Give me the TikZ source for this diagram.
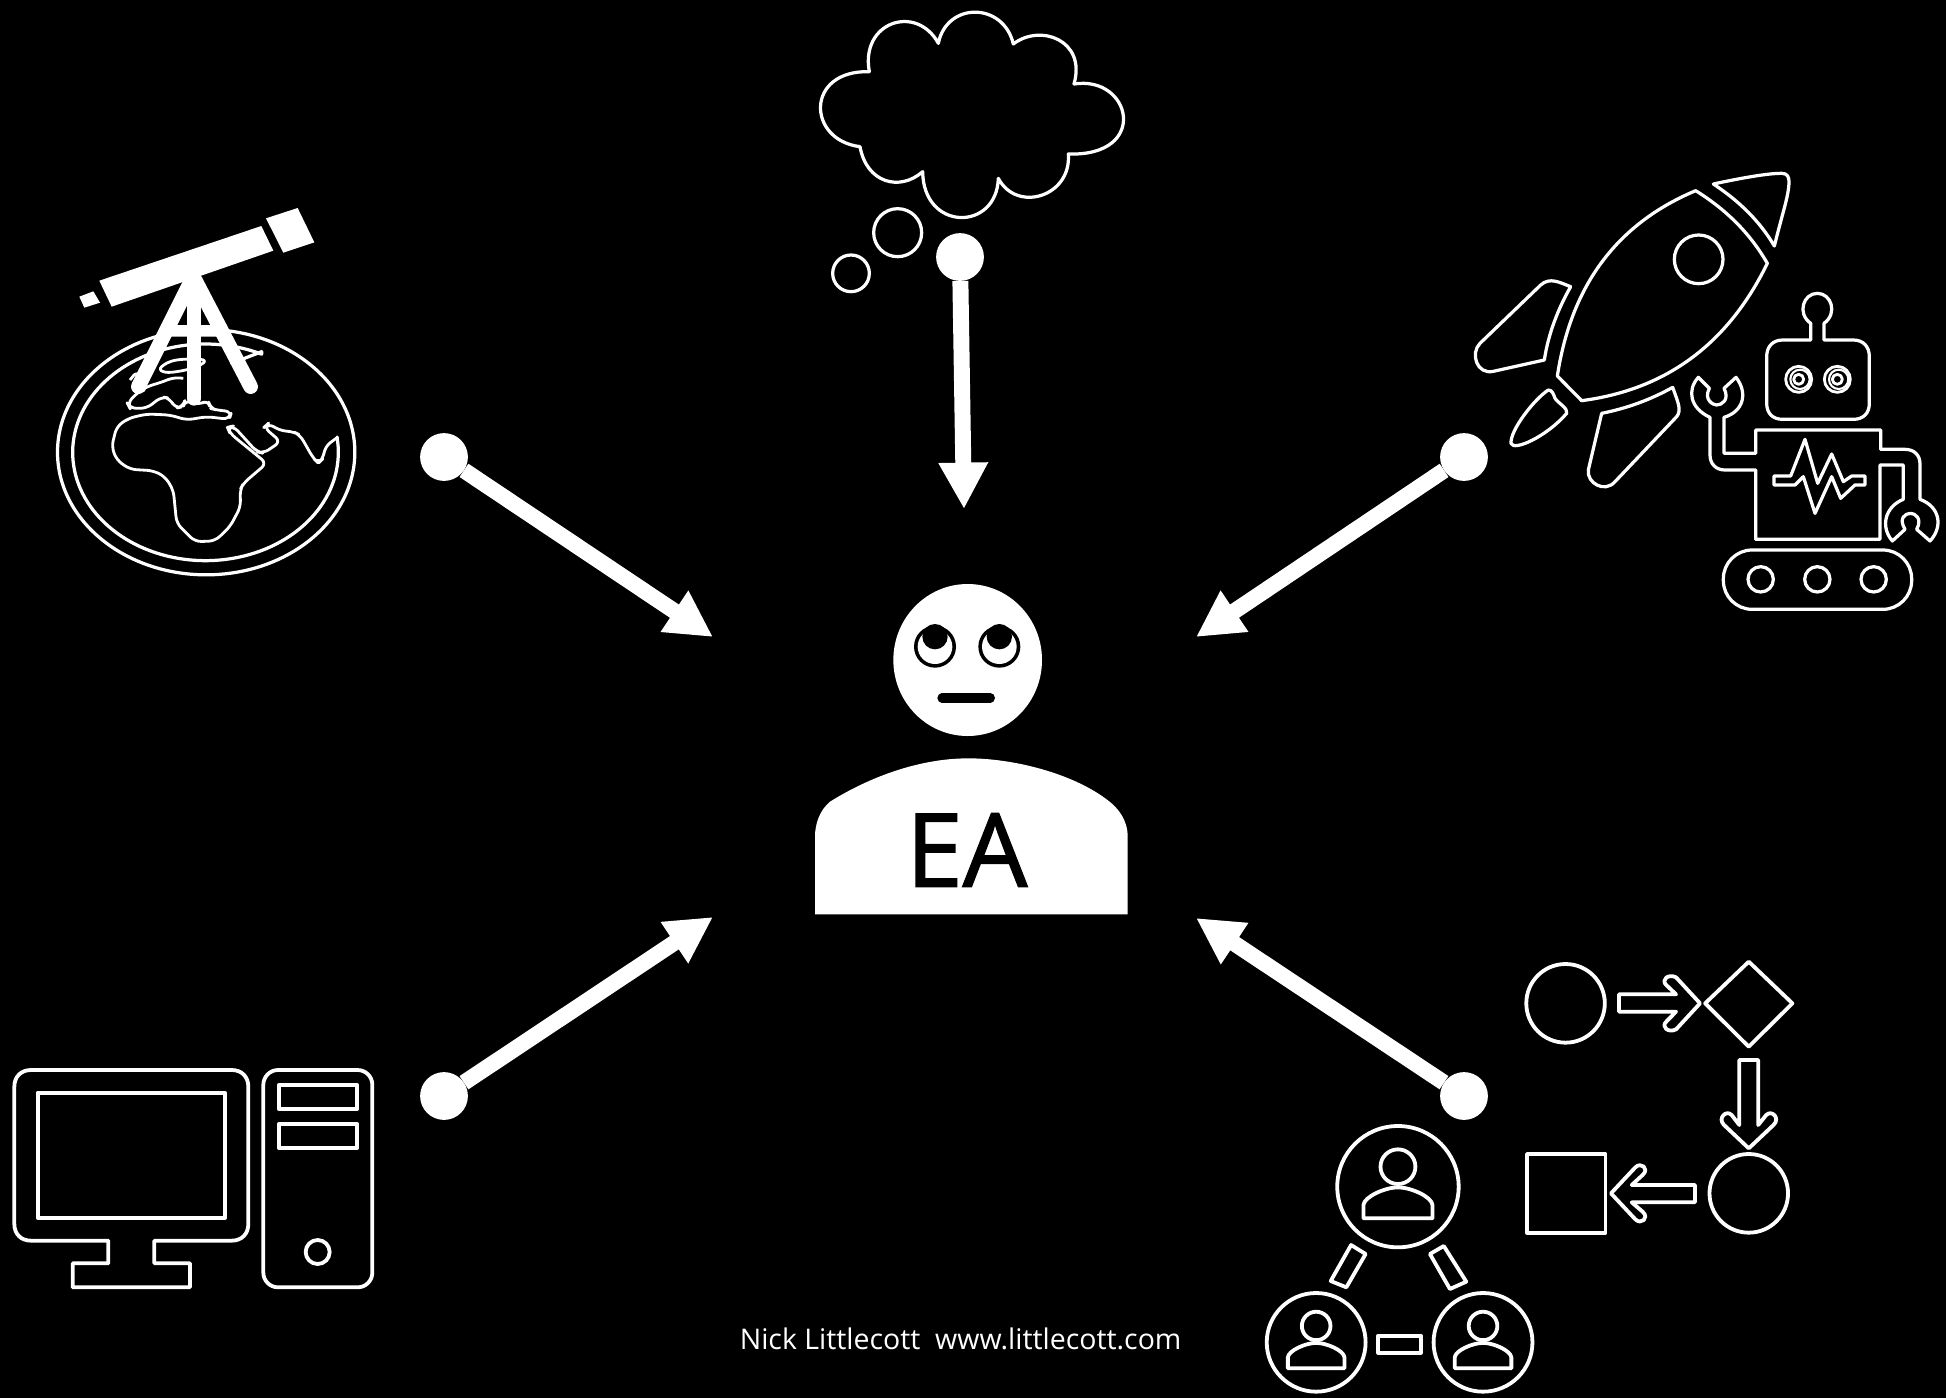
\documentclass[tikz,border=0pt]{standalone}
\usepackage{fontspec}
\setmainfont{Open Sans}
\newfontfamily\eafont[FakeBold=1.5]{Open Sans}
\usetikzlibrary{arrows.meta}
\tikzset{
  ol/.style={draw=white,line width=4.6pt,line join=round},
  thick ol/.style={draw=white,line width=5.4pt,line join=round},
  thin ol/.style={draw=white,line width=4pt,line join=round},
  fine ol/.style={draw=white,line width=3pt},
  leg/.style={draw=white,line width=20.8pt,line cap=round},
  dotnode/.style={circle,fill=white,draw=none,inner sep=0pt,minimum size=68pt},
  conn/.style={draw=white,line width=22.7pt,-{Triangle[length=66pt,width=66pt]}},
  z1/.style={shift={(30,190)},scale=0.33333},
  z2/.style={shift={(1450,160)},scale=0.33333},
  z3/.style={shift={(780,560)},scale=0.33333},
  z4/.style={shift={(1250,950)},xscale=0.36352,yscale=0.33333},
  z5/.style={shift={(800,0)},scale=0.33333},
  z6/.style={shift={(0,1050)},scale=0.33333},
}
\newcommand{\personicon}[3]{%
  \begin{scope}[shift={(#1,#2)},scale=#3]
    \draw[thick ol] (0,-60) ellipse [x radius=48,y radius=52];
    \draw[thick ol] (-95,95) -- (95,95) -- (95,55) .. controls (93,30) and (35,2) .. (0,2) .. controls (-35,2) and (-93,30) .. (-95,55) -- cycle;
  \end{scope}}
\begin{document}
\begin{tikzpicture}[x=0.05cm,y=-0.05cm]
\useasboundingbox (0,0) rectangle (1946,1397);
\fill[black] (-10,-10) rectangle (1956,1407);

% globe and telescope
\begin{scope}[z1]
  \draw[ol] (528.5,786.5) ellipse [x radius=446,y radius=368];
  \draw[ol,line cap=round] plot[domain=-8:295,samples=120,variable=\t] ({526.5+398.5*cos(\t)},{787+325*sin(\t)}) -- (695,485) -- (605,520);
  \draw[thin ol,rounded corners=9pt] (925,740) -- (885,770) -- (880,805) -- (865,820) -- (850,805) -- (810,735) -- (790,725) -- (750,722) -- (715,700) -- (702,712) -- (752,755) -- (700,790) -- (680,785) -- (610,708) -- (592,712) -- (600,730) -- (710,820) -- (640,880) -- (630,900) -- (632,950) -- (600,1010) -- (555,1053) -- (495,1055) -- (440,1000) -- (430,900) -- (405,860) -- (370,842) -- (300,838) -- (260,810) -- (245,770) -- (260,710) -- (295,685) -- (350,672) -- (420,675) -- (470,690) -- (530,680) -- (598,688) -- (605,665) -- (560,660) -- (540,655) -- (535,630) -- (505,645) -- (465,630) -- (460,650) -- (435,655) -- (420,625) -- (395,620) -- (350,655) -- (300,655) -- (292,640) -- (320,610) -- (350,590) -- (400,575) -- (430,562) -- (460,565);
  \draw[thin ol,rounded corners=6pt] (300,570) -- (320,545) -- (345,590) -- (340,605) -- (310,600);
  \draw[thin ol] plot[smooth cycle,tension=0.7] coordinates {(395,530) (440,510) (520,510) (500,530) (440,545) (400,545)};
  \draw[leg] (490,260) -- (325,590);
  \draw[leg] (490,260) -- (662,590);
  \draw[leg] (492,260) -- (492,625);
  \fill[white] (420,405) -- (575,405) -- (592,440) -- (403,440) -- cycle;
  \fill[white] (208,272) -- (694,108) -- (730,182) -- (245,350) -- cycle;
  \fill[white] (708,85) -- (803,54) -- (853,157) -- (760,188) -- cycle;
  \fill[white] (148,320) -- (190,304) -- (210,338) -- (163,353) -- cycle;
\end{scope}

% thought cloud
\begin{scope}[z5]
  \draw[ol,miter limit=10] (208,215) .. controls (180,65) and (350,10) .. (415,130)
    .. controls (440,5) and (610,5) .. (640,132)
    .. controls (720,70) and (860,120) .. (822,252)
    .. controls (995,225) and (1050,470) .. (805,462)
    .. controls (815,590) and (650,640) .. (595,535)
    .. controls (590,695) and (370,695) .. (368,515)
    .. controls (300,575) and (200,550) .. (180,440)
    .. controls (20,420) and (15,210) .. cycle;
  \draw[ol] (293,698) circle [radius=72];
  \draw[ol] (153,820) circle [radius=55];
\end{scope}

% rocket
\begin{scope}[z2]
  \draw[ol] (737,92) .. controls (480,200) and (360,400) .. (322,648) -- (395,722)
    .. controls (640,690) and (830,560) .. (952,310)
    .. controls (900,220) and (830,150) .. cycle;
  \draw[ol] (790,72) .. controls (870,55) and (950,40) .. (995,40) .. controls (1012,40) and (1018,50) .. (1017,70) .. controls (1015,110) and (1000,150) .. (973,258) .. controls (930,185) and (870,125) .. cycle;
  \draw[ol] (746,298) circle [radius=73];
  \draw[ol] (362,380) .. controls (330,368) and (300,350) .. (272,375) -- (90,550) .. controls (60,580) and (80,645) .. (130,634) -- (283,600) .. controls (295,520) and (325,445) .. cycle;
  \draw[ol] (295,690) .. controls (255,715) and (180,810) .. (183,850) .. controls (190,875) and (290,830) .. (350,760) .. controls (355,745) and (325,730) .. (315,715) .. controls (310,700) and (305,690) .. cycle;
  \draw[ol] (668,682) .. controls (600,720) and (530,745) .. (455,760) -- (415,930) .. controls (410,970) and (465,1000) .. (495,965) -- (680,770) .. controls (695,750) and (685,730) .. cycle;
% robot
  \draw[ol] (1082,540) -- (1082,490) .. controls (1040,460) and (1060,400) .. (1102,400) .. controls (1144,400) and (1164,460) .. (1122,490) -- (1122,540) -- (1210,540) .. controls (1240,540) and (1258,560) .. (1258,590) -- (1258,730) .. controls (1258,760) and (1240,778) .. (1210,778) -- (998,778) .. controls (968,778) and (950,760) .. (950,730) -- (950,590) .. controls (950,560) and (968,540) .. (998,540) -- cycle;
  \foreach \ex in {1046,1162}{
    \draw[thin ol] (\ex,658) circle [radius=39];
    \draw[thin ol] (\ex,658) circle [radius=15];
    \draw[fine ol] (\ex+4,658) circle [radius=29];
  }
  \draw[ol] (917,810) -- (1292,810) -- (1292,868) -- (1365,868) .. controls (1392,868) and (1410,885) .. (1410,912) -- (1410,1018)
    .. controls (1470,1040) and (1480,1100) .. (1440,1143) -- (1400,1108) .. controls (1418,1075) and (1395,1060) .. (1382,1060) .. controls (1365,1060) and (1345,1075) .. (1365,1108) -- (1327,1143) .. controls (1290,1100) and (1305,1040) .. (1360,1018)
    -- (1360,915) -- (1290,915) -- (1290,1138) -- (917,1138) -- (917,930) -- (825,930) .. controls (798,930) and (780,912) .. (780,885) -- (780,772)
    .. controls (720,745) and (710,690) .. (745,652) -- (778,685) .. controls (760,720) and (790,735) .. (800,735) .. controls (815,735) and (840,720) .. (822,685) -- (858,652) .. controls (895,700) and (880,755) .. (822,772)
    -- (822,880) -- (917,880) -- cycle;
  \draw[ol] (972,948) -- (1022,948) -- (1065,838) -- (1103,970) -- (1145,882) -- (1180,965) -- (1205,948) -- (1245,948) -- (1245,975) -- (1215,975) -- (1172,1015) -- (1145,950) -- (1095,1060) -- (1060,950) -- (1035,975) -- (972,975) -- cycle;
  \draw[ol,rounded corners=41pt] (820,1170) rectangle (1385,1348);
  \foreach \wx in {932,1102,1271}{\draw[ol] (\wx,1258) circle [radius=38];}
\end{scope}

% computer
\begin{scope}[z6]
  \draw[thick ol] (325,572) -- (325,640) -- (218,640) -- (218,712) -- (570,712) -- (570,640) -- (463,640) -- (463,572) -- (695,572) .. controls (725,572) and (745,552) .. (745,522) -- (745,110) .. controls (745,80) and (725,60) .. (695,60) -- (93,60) .. controls (63,60) and (43,80) .. (43,110) -- (43,522) .. controls (43,552) and (63,572) .. (93,572) -- cycle;
  \draw[thick ol] (113,128) rectangle (675,503);
  \draw[thick ol,rounded corners=21pt] (790,60) rectangle (1117,712);
  \draw[thick ol] (836,105) rectangle (1072,177);
  \draw[thick ol] (836,222) rectangle (1072,294);
  \draw[thick ol] (953,606) circle [radius=36];
\end{scope}

% process and team
\begin{scope}[z4]
  \draw[thick ol] (868,160) ellipse [x radius=108,y radius=118];
  \draw[thick ol] (1372,35) -- (1492,160) -- (1372,290) -- (1252,160) -- cycle;
  \draw[thick ol] (1015,133) -- (1172,133) -- (1145,105) .. controls (1130,90) and (1150,70) .. (1172,82) -- (1238,160) -- (1172,238) .. controls (1150,250) and (1130,230) .. (1145,215) -- (1172,185) -- (1015,185) -- cycle;
  \draw[thick ol] (1346,330) -- (1398,330) -- (1398,525) -- (1420,495) .. controls (1435,478) and (1460,505) .. (1440,525) -- (1372,595) -- (1304,525) .. controls (1285,505) and (1310,478) .. (1325,495) -- (1346,525) -- cycle;
  \draw[thick ol] (1372,730) ellipse [x radius=108,y radius=118];
  \draw[thick ol] (762,612) rectangle (978,848);
  \draw[thick ol] (1224,705) -- (1050,705) -- (1080,675) .. controls (1100,655) and (1075,635) .. (1060,652) -- (993,730) -- (1060,808) .. controls (1075,825) and (1100,805) .. (1080,785) -- (1050,757) -- (1224,757) -- cycle;
  \draw[thick ol] (407,710) ellipse [x radius=167,y radius=182];
  \draw[thick ol] (182,1177) ellipse [x radius=136,y radius=148];
  \draw[thick ol] (641,1177) ellipse [x radius=136,y radius=148];
  \personicon{407}{710}{1}
  \personicon{182}{1177}{0.82}
  \personicon{641}{1177}{0.82}
  \draw[thick ol] (278,885) -- (318,912) -- (265,1012) -- (222,993) -- cycle;
  \draw[thick ol] (495,912) -- (533,888) -- (595,995) -- (550,1017) -- cycle;
  \draw[thick ol] (353,1157) -- (470,1157) -- (470,1208) -- (353,1208) -- cycle;
\end{scope}

% EA person
\begin{scope}[z3]
  \fill[white] (563,300) ellipse [x radius=223,y radius=228];
  \foreach \ex in {465,658}{
    \fill[black] (\ex,260) circle [radius=63];
    \fill[white] (\ex,260) circle [radius=52];
    \fill[black] (\ex,230) circle [radius=38];
  }
  \draw[black,line width=13.2pt,line cap=round] (486,414) -- (631,414);
  \fill[white] (105,1063) -- (1043,1063) -- (1043,830) .. controls (1043,780) and (1015,745) .. (985,722) .. controls (880,640) and (700,595) .. (565,595) .. controls (420,595) and (270,650) .. (150,725) .. controls (120,750) and (105,790) .. (105,830) -- cycle;
\end{scope}
\node[text=black,inner sep=0pt,font=\eafont\fontsize{145pt}{150pt}\selectfont] (ea) at (966.7,850) {EA};

% connectors
\node[dotnode] (d1) at (444,457) {};
\node[dotnode] (d2) at (960,257) {};
\node[dotnode] (d3) at (1464,457) {};
\node[dotnode] (d4) at (444,1096) {};
\node[dotnode] (d5) at (1464,1096) {};
\coordinate (t1) at (713,637);
\coordinate (t2) at (964,509);
\coordinate (t3) at (1196,637);
\coordinate (t4) at (713,917);
\coordinate (t5) at (1196,918);
\draw[conn] (d1) -- (t1);
\draw[conn] (d2) -- (t2);
\draw[conn] (d3) -- (t3);
\draw[conn] (d4) -- (t4);
\draw[conn] (d5) -- (t5);

\node[text=white,inner sep=0pt,font=\fontsize{40.5pt}{44pt}\selectfont] (credit) at (960.6,1339) {Nick Littlecott\ \ www.littlecott.com};
\end{tikzpicture}
\end{document}
